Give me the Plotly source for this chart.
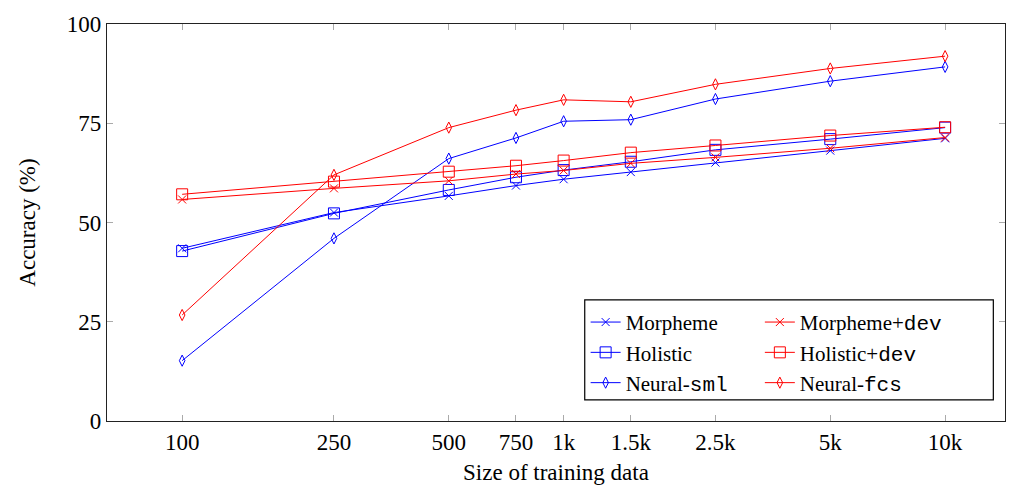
import plotly.graph_objects as go

sizes = [100, 250, 500, 750, 1000, 1500, 2500, 5000, 10000]
tick_text = ["100", "250", "500", "750", "1k", "1.5k", "2.5k", "5k", "10k"]

morpheme = [43.5, 52.5, 56.7, 59.3, 60.9, 62.7, 65.1, 68.1, 71.2]
holistic = [42.8, 52.3, 58.2, 61.4, 63.2, 65.3, 68.3, 71.0, 73.9]
neural_sml = [15.2, 46.0, 66.1, 71.3, 75.5, 75.9, 81.1, 85.6, 89.2]
morpheme_dev = [55.8, 58.6, 60.5, 62.2, 63.1, 64.9, 66.4, 68.7, 71.4]
holistic_dev = [57.1, 60.3, 62.8, 64.3, 65.6, 67.6, 69.4, 71.9, 74.0]
neural_fcs = [26.7, 62.0, 73.9, 78.3, 80.9, 80.4, 84.8, 88.8, 91.9]

BLUE = "#0000ff"
RED = "#ff0000"
SERIF = "Liberation Serif, Times New Roman, DejaVu Serif, serif"
MONO = "Liberation Mono"


def tt(s):
    return f"<span style=\"font-family:'{MONO}', monospace\">{s}</span>"


series = [
    ("Morpheme", morpheme, BLUE, "x-thin", 8, "legend"),
    ("Holistic", holistic, BLUE, "square-open", 11, "legend"),
    ("Neural-" + tt("sml"), neural_sml, BLUE, "diamond-tall-open", 8, "legend"),
    ("Morpheme+" + tt("dev"), morpheme_dev, RED, "x-thin", 8, "legend2"),
    ("Holistic+" + tt("dev"), holistic_dev, RED, "square-open", 11, "legend2"),
    ("Neural-" + tt("fcs"), neural_fcs, RED, "diamond-tall-open", 8, "legend2"),
]

fig = go.Figure()
for name, vals, color, sym, size, leg in series:
    fig.add_trace(go.Scatter(
        x=sizes, y=vals, name=name, mode="lines+markers",
        line=dict(color=color, width=1),
        marker=dict(symbol=sym, size=size, color=color,
                    line=dict(color=color, width=1)),
        legend=leg,
    ))

axis_common = dict(
    showgrid=False, zeroline=False, showline=True, linecolor="#222",
    linewidth=1.2, mirror="ticks", ticks="inside", ticklen=6,
    tickcolor="#aaaaaa", tickwidth=1.2,
    tickfont=dict(family=SERIF, size=23, color="black"),
)

fig.update_layout(
    width=1013, height=491,
    margin=dict(l=107, r=8, t=24, b=70),
    paper_bgcolor="white", plot_bgcolor="white",
    font=dict(family=SERIF, size=23, color="black"),
    xaxis=dict(type="log", range=[1.803, 4.157], tickvals=sizes,
               ticktext=tick_text,
               title=dict(text="Size of training data",
                          font=dict(family=SERIF, size=23), standoff=10),
               **axis_common),
    yaxis=dict(range=[0, 100], tickvals=[0, 25, 50, 75, 100],
               title=dict(text="Accuracy (%)",
                          font=dict(family=SERIF, size=23), standoff=24),
               **axis_common),
    legend=dict(x=0.533, y=0.30, xanchor="left", yanchor="top",
                bgcolor="rgba(255,255,255,0)", borderwidth=0,
                font=dict(family=SERIF, size=21), tracegroupgap=0,
                itemwidth=30),
    legend2=dict(x=0.727, y=0.30, xanchor="left", yanchor="top",
                 bgcolor="rgba(255,255,255,0)", borderwidth=0,
                 font=dict(family=SERIF, size=21), tracegroupgap=0,
                 itemwidth=30),
    shapes=[dict(type="rect", xref="paper", yref="paper",
                 x0=0.532, x1=0.987, y0=0.053, y1=0.305,
                 line=dict(color="black", width=1.2),
                 fillcolor="white", layer="below")],
    showlegend=True,
)

fig.write_html("out.html")
